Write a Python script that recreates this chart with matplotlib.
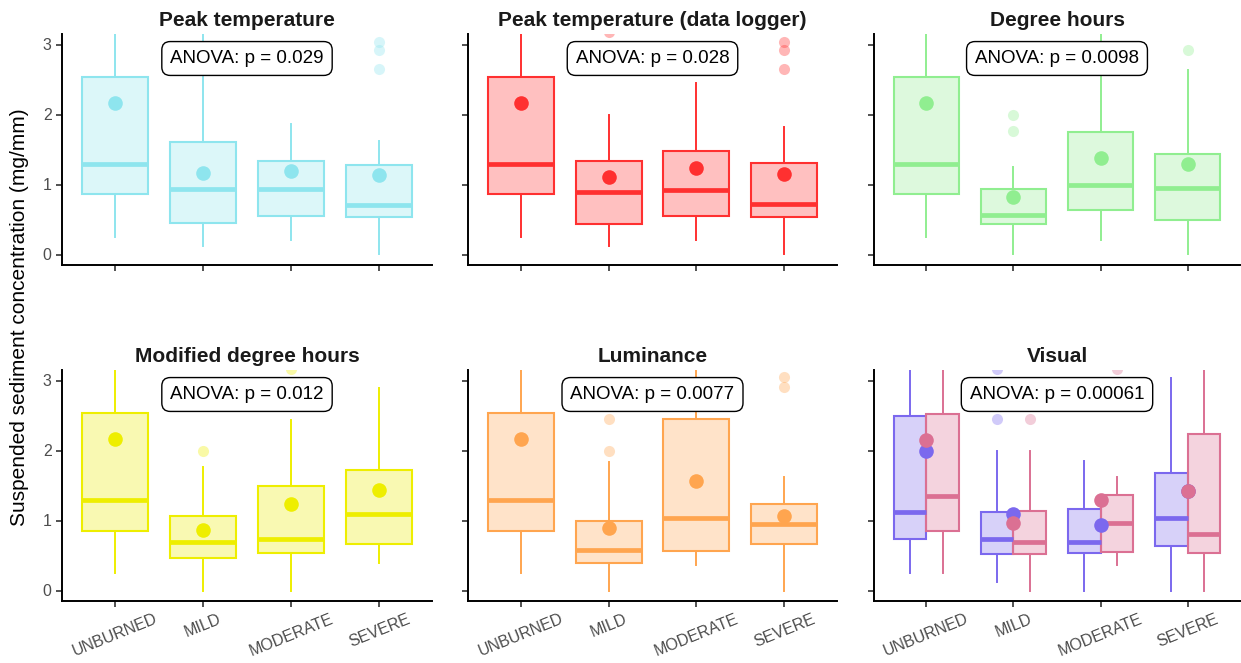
import matplotlib
matplotlib.use("Agg")
import matplotlib.pyplot as plt
from matplotlib.colors import to_rgba

plt.rcParams['font.family'] = ['Liberation Sans', 'DejaVu Sans']

categories = ["UNBURNED", "MILD", "MODERATE", "SEVERE"]

# box summaries per burn class: lower whisker, Q1, median, Q3, upper whisker
peak_stats = [[0.25, 0.86, 1.29, 2.53, 3.60],
              [0.12, 0.45, 0.93, 1.61, 3.30],
              [0.21, 0.55, 0.93, 1.34, 1.86],
              [0.01, 0.53, 0.71, 1.28, 1.62]]
peak_means = [2.17, 1.17, 1.19, 1.14]
peak_outliers = [[], [], [], [2.65, 2.92, 3.04]]

logger_stats = [[0.25, 0.86, 1.29, 2.53, 3.60],
                [0.12, 0.43, 0.90, 1.34, 2.00],
                [0.21, 0.55, 0.92, 1.48, 2.45],
                [0.01, 0.53, 0.72, 1.31, 1.82]]
logger_means = [2.17, 1.11, 1.23, 1.15]
logger_outliers = [[], [3.18], [], [2.65, 2.92, 3.04]]

dh_stats = [[0.25, 0.86, 1.29, 2.53, 3.60],
            [0.01, 0.43, 0.57, 0.94, 1.25],
            [0.21, 0.63, 1.00, 1.75, 3.40],
            [0.01, 0.49, 0.95, 1.44, 2.64]]
dh_means = [2.17, 0.82, 1.38, 1.30]
dh_outliers = [[], [1.77, 2.00], [], [2.92]]

mdh_stats = [[0.25, 0.85, 1.30, 2.53, 3.60],
             [0.00, 0.47, 0.69, 1.06, 1.76],
             [0.00, 0.53, 0.74, 1.50, 2.44],
             [0.40, 0.66, 1.09, 1.72, 2.90]]
mdh_means = [2.17, 0.86, 1.24, 1.44]
mdh_outliers = [[], [2.00], [3.17], []]

lum_stats = [[0.25, 0.85, 1.30, 2.53, 3.60],
             [0.00, 0.40, 0.58, 0.99, 1.84],
             [0.37, 0.57, 1.03, 2.45, 3.60],
             [0.00, 0.66, 0.95, 1.23, 1.62]]
lum_means = [2.17, 0.89, 1.57, 1.06]
lum_outliers = [[], [2.00, 2.45], [], [2.91, 3.05]]

# visual assessment, two observers
vis_a_stats = [[0.25, 0.73, 1.12, 2.50, 3.60],
               [0.12, 0.52, 0.74, 1.12, 2.00],
               [0.00, 0.54, 0.70, 1.16, 1.85],
               [0.00, 0.63, 1.03, 1.68, 3.03]]
vis_a_means = [1.99, 1.10, 0.93, 1.42]
vis_a_outliers = [[], [2.45, 3.17], [], []]

vis_b_stats = [[0.25, 0.85, 1.35, 2.52, 3.60],
               [0.00, 0.52, 0.70, 1.13, 2.00],
               [0.37, 0.55, 0.97, 1.37, 1.62],
               [0.00, 0.54, 0.81, 2.24, 3.60]]
vis_b_means = [2.15, 0.97, 1.29, 1.42]
vis_b_outliers = [[], [2.45], [3.17], []]

titles = ["Peak temperature", "Peak temperature (data logger)", "Degree hours",
          "Modified degree hours", "Luminance", "Visual"]
p_labels = ["ANOVA: p = 0.029", "ANOVA: p = 0.028", "ANOVA: p = 0.0098",
            "ANOVA: p = 0.012", "ANOVA: p = 0.0077", "ANOVA: p = 0.00061"]


def draw_boxes(ax, stats, means, outliers, color, offset=0.0, width=0.75):
    xs = [i + 1 for i in range(len(stats))]
    bx = []
    for s, o in zip(stats, outliers):
        bx.append(dict(whislo=s[0], q1=s[1], med=s[2], q3=s[3], whishi=s[4], fliers=o))
    ax.bxp(bx, positions=[x + offset for x in xs], widths=width,
           patch_artist=True, showcaps=False,
           boxprops=dict(facecolor=to_rgba(color, 0.3), edgecolor=color, linewidth=1.5),
           medianprops=dict(color=color, linewidth=3.4, solid_capstyle='butt'),
           whiskerprops=dict(color=color, linewidth=1.4),
           flierprops=dict(marker='o', markerfacecolor=color, markeredgecolor='none',
                           alpha=0.35, markersize=8))
    ax.plot(xs, means, 'o', color=color, markersize=10.5, markeredgewidth=0, zorder=5)


fig = plt.figure(figsize=(12.41, 6.63), dpi=100)
W, H = 1241, 663
lefts = [62, 468, 874]
widths = [370, 369, 366]
tops = [34, 370]
ax_h = 231

axes = []
for r in range(2):
    for c in range(3):
        ax = fig.add_axes([lefts[c] / W, 1 - (tops[r] + ax_h) / H, widths[c] / W, ax_h / H])
        axes.append(ax)

draw_boxes(axes[0], peak_stats, peak_means, peak_outliers, "#8EE5EE")
draw_boxes(axes[1], logger_stats, logger_means, logger_outliers, "#FF3030")
draw_boxes(axes[2], dh_stats, dh_means, dh_outliers, "#90EE90")
draw_boxes(axes[3], mdh_stats, mdh_means, mdh_outliers, "#EEEE00")
draw_boxes(axes[4], lum_stats, lum_means, lum_outliers, "#FFA54F")
draw_boxes(axes[5], vis_a_stats, vis_a_means, vis_a_outliers, "#7B68EE", offset=-0.1875, width=0.375)
draw_boxes(axes[5], vis_b_stats, vis_b_means, vis_b_outliers, "#DB7093", offset=0.1875, width=0.375)

for i, ax in enumerate(axes):
    ax.set_xlim(0.4, 4.6)
    ax.set_ylim(-0.15, 3.15)
    ax.set_yticks([0, 1, 2, 3])
    ax.set_xticks([1, 2, 3, 4])
    for side in ["top", "right"]:
        ax.spines[side].set_visible(False)
    for side in ["left", "bottom"]:
        ax.spines[side].set_linewidth(1.4)
        ax.spines[side].set_color("black")
    ax.tick_params(axis="both", length=4.5, width=1.2, color="#333333",
                   labelcolor="#4D4D4D", labelsize=11.5, pad=3)
    if i % 3 == 0:
        ax.set_yticklabels(["0", "1", "2", "3"])
    else:
        ax.set_yticklabels([])
    if i >= 3:
        ax.set_xticklabels(categories, rotation=22, ha="center")
    else:
        ax.set_xticklabels([])
    ax.set_title(titles[i], fontsize=15, fontweight="bold", color="#1A1A1A", pad=6)
    ax.text(2.5, 2.8, p_labels[i], ha="center", va="center", fontsize=13.5,
            bbox=dict(boxstyle="round,pad=0.45,rounding_size=0.45", fc="white",
                      ec="black", lw=1.0))

fig.text(20 / W, 1 - 317 / H, "Suspended sediment concentration (mg/mm)",
         rotation=90, ha="center", va="center", fontsize=15)

fig.savefig("out.png", dpi=100)
